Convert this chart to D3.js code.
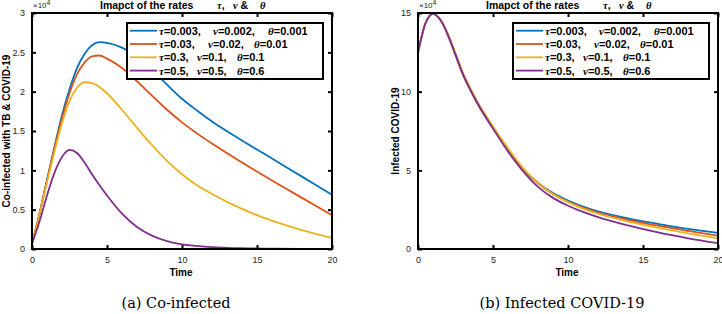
<!DOCTYPE html>
<html>
<head>
<meta charset="utf-8">
<script src="https://cdn.jsdelivr.net/npm/d3@7"></script>
<style>
  body { margin: 0; background: #fff; }
  svg { display: block; }
  .tick text { font-family: "Liberation Sans", Arial, sans-serif; font-size: 9px; fill: #262626; }
  .lbl { font-family: "Liberation Sans", Arial, sans-serif; font-weight: bold; fill: #000; }
  .greek { font-family: "Liberation Serif", "Times New Roman", serif; font-style: italic; font-weight: bold; }
</style>
</head>
<body>
<div id="chart"></div>
<script>
// time grids (days)
const timeCo = [0, 0.5, 1, 1.5, 2, 2.5, 3, 3.5, 4, 4.5, 5, 6, 7, 8, 9, 10, 11, 12, 14, 16, 18, 20];
const timeCov = [0, 0.5, 1, 1.5, 2, 2.5, 3, 3.5, 4, 5, 6, 7, 8, 9, 10, 11, 12, 14, 16, 18, 20];

// co-infected with TB & COVID-19 (x 10^4)
const coInfA = [0.07, 0.45, 0.88, 1.30, 1.70, 2.03, 2.30, 2.48, 2.59, 2.63, 2.62, 2.56, 2.44, 2.28, 2.09, 1.91, 1.76, 1.62, 1.38, 1.15, 0.92, 0.69];
const coInfB = [0.07, 0.45, 0.87, 1.28, 1.66, 1.98, 2.22, 2.37, 2.45, 2.46, 2.42, 2.30, 2.13, 1.95, 1.77, 1.61, 1.47, 1.34, 1.10, 0.87, 0.65, 0.43];
const coInfC = [0.07, 0.44, 0.85, 1.24, 1.60, 1.88, 2.05, 2.12, 2.11, 2.06, 1.98, 1.77, 1.54, 1.32, 1.12, 0.95, 0.81, 0.70, 0.51, 0.36, 0.24, 0.14];
const coInfD = [0.07, 0.35, 0.68, 0.97, 1.17, 1.26, 1.22, 1.10, 0.95, 0.81, 0.68, 0.45, 0.28, 0.17, 0.10, 0.06, 0.04, 0.025, 0.01, 0.005, 0.002, 0.001];

// infected COVID-19 (x 10^4)
const covA = [12.5, 14.35, 14.95, 14.55, 13.6, 12.35, 11.1, 10.1, 9.2, 7.7, 6.3, 5.1, 4.2, 3.55, 3.08, 2.70, 2.40, 1.95, 1.60, 1.28, 1.03];
const covB = [12.5, 14.35, 14.95, 14.55, 13.6, 12.35, 11.1, 10.1, 9.2, 7.7, 6.3, 5.1, 4.18, 3.50, 3.02, 2.63, 2.32, 1.85, 1.48, 1.15, 0.84];
const covC = [12.5, 14.35, 14.95, 14.55, 13.65, 12.45, 11.2, 10.2, 9.3, 7.8, 6.4, 5.15, 4.2, 3.50, 2.98, 2.57, 2.24, 1.74, 1.35, 1.00, 0.67];
const covD = [12.5, 14.35, 14.95, 14.55, 13.6, 12.35, 11.1, 10.1, 9.2, 7.65, 6.2, 4.95, 3.95, 3.25, 2.75, 2.36, 2.03, 1.50, 1.05, 0.68, 0.37];

// legend parameters
const taus = ["0.003", "0.03", "0.3", "0.5"];
const nus = ["0.002", "0.02", "0.1", "0.5"];
const thetas = ["0.001", "0.01", "0.1", "0.6"];
const colors = ["#0072BD", "#D95319", "#EDB120", "#7E2F8E"];

// tick labels
const xTicks = [0, 5, 10, 15, 20];
const yTicksCo = [0, 0.5, 1, 1.5, 2, 2.5, 3];
const yTicksCov = [0, 5, 10, 15];

const W = 722, H = 314;
const svg = d3.select("#chart").append("svg")
    .attr("width", W)
    .attr("height", H);

function panel(opt) {
  let x = d3.scaleLinear().domain([0, 20]).range([opt.left, opt.right]);
  let y = d3.scaleLinear().domain(opt.yDomain).range([249, 13]);
  let g = svg.append("g");

  // curves
  let line = d3.line()
      .x(d => x(d[0]))
      .y(d => y(d[1]))
      .curve(d3.curveMonotoneX);
  opt.series.forEach((s, i) => {
    g.append("path")
      .datum(opt.time.map((t, j) => [t, s[j]]))
      .attr("fill", "none")
      .attr("stroke", colors[i])
      .attr("stroke-width", 1.8)
      .attr("d", line);
  });

  // axes with inward ticks on all sides
  let ax = (a) => a.tickSizeOuter(0);
  g.append("g").attr("transform", "translate(0,249)")
    .call(ax(d3.axisBottom(x).tickValues(xTicks).tickSize(-4).tickPadding(8)));
  g.append("g").attr("transform", "translate(0,13)")
    .call(ax(d3.axisTop(x).tickValues(xTicks).tickSize(-4).tickFormat("")));
  g.append("g").attr("transform", `translate(${opt.left},0)`)
    .call(ax(d3.axisLeft(y).tickValues(opt.yTicks).tickSize(-4).tickPadding(7).tickFormat(d3.format("~g"))));
  g.append("g").attr("transform", `translate(${opt.right},0)`)
    .call(ax(d3.axisRight(y).tickValues(opt.yTicks).tickSize(-4).tickFormat("")));
  g.selectAll(".domain").remove();
  g.selectAll(".tick line").attr("stroke", "#000").attr("stroke-width", 2);

  g.append("rect")
    .attr("x", opt.left).attr("y", 13)
    .attr("width", opt.right - opt.left).attr("height", 236)
    .attr("fill", "none").attr("stroke", "#000").attr("stroke-width", 2);

  // exponent
  let ex = g.append("text")
    .attr("x", opt.left + 1).attr("y", 8)
    .style("font-family", "Liberation Sans, Arial, sans-serif")
    .style("font-size", "8px").attr("fill", "#262626");
  ex.append("tspan").text("×10");
  ex.append("tspan").attr("dy", -3).style("font-size", "7px").text("4");

  // title
  let cx = (opt.left + opt.right) / 2;
  let tt = g.append("text").attr("class", "lbl").attr("y", 8.5).style("font-size", "10.5px");
  tt.append("tspan").attr("x", cx - 82).text("Imapct of the rates");
  tt.append("tspan").attr("x", cx + 35).attr("class", "greek").text("τ");
  tt.append("tspan").text(",");
  tt.append("tspan").attr("x", cx + 51).attr("class", "greek").text("ν");
  tt.append("tspan").text(" &");
  tt.append("tspan").attr("x", cx + 78).attr("class", "greek").text("θ");

  // x label
  g.append("text").attr("class", "lbl")
    .attr("x", cx - 1).attr("y", 276)
    .attr("text-anchor", "middle").style("font-size", "10px")
    .text("Time");

  // y label
  g.append("text").attr("class", "lbl")
    .attr("transform", `translate(${opt.yLabelX},131) rotate(-90)`)
    .attr("text-anchor", "middle").style("font-size", "10px")
    .text(opt.yLabel);

  // legend
  let lg = g.append("g").attr("transform", `translate(${opt.legendX},23)`);
  lg.append("rect")
    .attr("width", 196).attr("height", 56)
    .attr("fill", "#fff").attr("stroke", "#000").attr("stroke-width", 2);
  taus.forEach((tau, i) => {
    let ry = 7.7 + i * 13.3;
    lg.append("line")
      .attr("x1", 3).attr("x2", 30).attr("y1", ry).attr("y2", ry)
      .attr("stroke", colors[i]).attr("stroke-width", 1.8);
    let t = lg.append("text").attr("class", "lbl")
      .attr("y", ry + 4).style("font-size", "11px");
    t.append("tspan").attr("x", 32).attr("class", "greek").text("τ");
    t.append("tspan").text("=" + tau + ",");
    t.append("tspan").attr("x", opt.nuX[i]).attr("class", "greek").text("ν");
    t.append("tspan").text("=" + nus[i] + ",");
    t.append("tspan").attr("x", opt.thetaX[i]).attr("class", "greek").text("θ");
    t.append("tspan").text("=" + thetas[i]);
  });

  // caption
  svg.append("text")
    .attr("x", opt.captionX).attr("y", 308)
    .attr("text-anchor", "middle")
    .style("font-family", "DejaVu Serif, Liberation Serif, serif")
    .style("font-size", "14.5px")
    .text(opt.caption);
}

panel({
  left: 32, right: 332, yDomain: [0, 3], yTicks: yTicksCo,
  time: timeCo, series: [coInfA, coInfB, coInfC, coInfD],
  yLabel: "Co-infected with TB & COVID-19", yLabelX: 9.5,
  legendX: 127, nuX: [86, 81, 70, 70], thetaX: [141, 127, 110, 110],
  caption: "(a) Co-infected", captionX: 176
});

panel({
  left: 418, right: 718, yDomain: [0, 15], yTicks: yTicksCov,
  time: timeCov, series: [covA, covB, covC, covD],
  yLabel: "Infected COVID-19", yLabelX: 399,
  legendX: 513, nuX: [86, 81, 70, 70], thetaX: [141, 127, 110, 110],
  caption: "(b) Infected COVID-19", captionX: 562
});
</script>
</body>
</html>
